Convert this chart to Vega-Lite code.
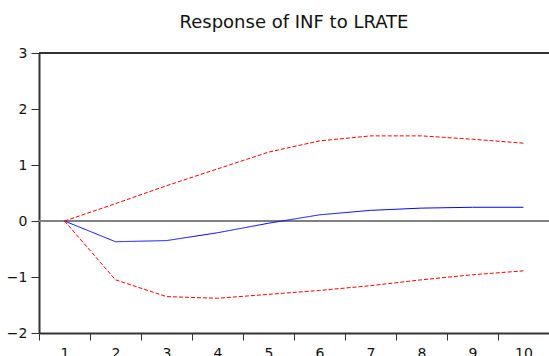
{
  "$schema": "https://vega.github.io/schema/vega-lite/v6.json",
  "autosize": "none",
  "width": 510,
  "height": 280,
  "padding": {"left": 39, "top": 53, "right": 0, "bottom": 23},
  "background": "white",
  "config": {
    "view": {"stroke": null},
    "font": "DejaVu Sans",
    "axis": {"labelFont": "DejaVu Sans", "labelFontSize": 14, "labelColor": "#111", "grid": false, "title": null}
  },
  "title": {"text": "Response of INF to LRATE", "fontSize": 18, "fontWeight": "normal", "font": "DejaVu Sans", "color": "#111", "anchor": "middle", "offset": 14},
  "data": {"values": [
    {"period": 1, "series": "Response", "value": 0},
    {"period": 2, "series": "Response", "value": -0.37},
    {"period": 3, "series": "Response", "value": -0.35},
    {"period": 4, "series": "Response", "value": -0.21},
    {"period": 5, "series": "Response", "value": -0.04},
    {"period": 6, "series": "Response", "value": 0.11},
    {"period": 7, "series": "Response", "value": 0.19},
    {"period": 8, "series": "Response", "value": 0.23},
    {"period": 9, "series": "Response", "value": 0.245},
    {"period": 10, "series": "Response", "value": 0.245},
    {"period": 1, "series": "Upper", "value": 0},
    {"period": 2, "series": "Upper", "value": 0.31},
    {"period": 3, "series": "Upper", "value": 0.63},
    {"period": 4, "series": "Upper", "value": 0.93},
    {"period": 5, "series": "Upper", "value": 1.23},
    {"period": 6, "series": "Upper", "value": 1.43},
    {"period": 7, "series": "Upper", "value": 1.52},
    {"period": 8, "series": "Upper", "value": 1.52},
    {"period": 9, "series": "Upper", "value": 1.46},
    {"period": 10, "series": "Upper", "value": 1.39},
    {"period": 1, "series": "Lower", "value": 0},
    {"period": 2, "series": "Lower", "value": -1.05},
    {"period": 3, "series": "Lower", "value": -1.35},
    {"period": 4, "series": "Lower", "value": -1.38},
    {"period": 5, "series": "Lower", "value": -1.31},
    {"period": 6, "series": "Lower", "value": -1.24},
    {"period": 7, "series": "Lower", "value": -1.155},
    {"period": 8, "series": "Lower", "value": -1.05},
    {"period": 9, "series": "Lower", "value": -0.96},
    {"period": 10, "series": "Lower", "value": -0.89}
  ]},
  "layer": [
    {
      "mark": {"type": "rule", "color": "#808080", "strokeWidth": 1.5},
      "encoding": {"y": {"datum": 0, "type": "quantitative", "scale": {"domain": [-2, 3], "nice": false, "zero": false}}}
    },
    {
      "mark": {"type": "rule", "color": "#333", "strokeWidth": 2},
      "encoding": {"y": {"datum": 3, "type": "quantitative"}}
    },
    {
      "mark": {"type": "line", "strokeWidth": 1, "interpolate": "linear"},
      "encoding": {
        "x": {
          "field": "period", "type": "ordinal",
          "scale": {"type": "band", "paddingInner": 0, "paddingOuter": 0},
          "axis": {"labelAngle": 0, "tickBand": "extent", "tickSize": 7, "tickColor": "#333", "domainColor": "#333", "domainWidth": 2, "labelPadding": 6}
        },
        "y": {
          "field": "value", "type": "quantitative",
          "scale": {"domain": [-2, 3], "nice": false, "zero": false},
          "axis": {"values": [-2, -1, 0, 1, 2, 3], "tickSize": 8, "tickColor": "#333", "domainColor": "#333", "domainWidth": 2, "labelPadding": 4}
        },
        "color": {"field": "series", "type": "nominal", "scale": {"domain": ["Response", "Upper", "Lower"], "range": ["#0000FF", "#FF0000", "#FF0000"]}, "legend": null},
        "strokeDash": {"field": "series", "type": "nominal", "scale": {"domain": ["Response", "Upper", "Lower"], "range": [[1, 0], [4, 2], [4, 2]]}, "legend": null},
        "detail": {"field": "series", "type": "nominal"}
      }
    }
  ]
}
